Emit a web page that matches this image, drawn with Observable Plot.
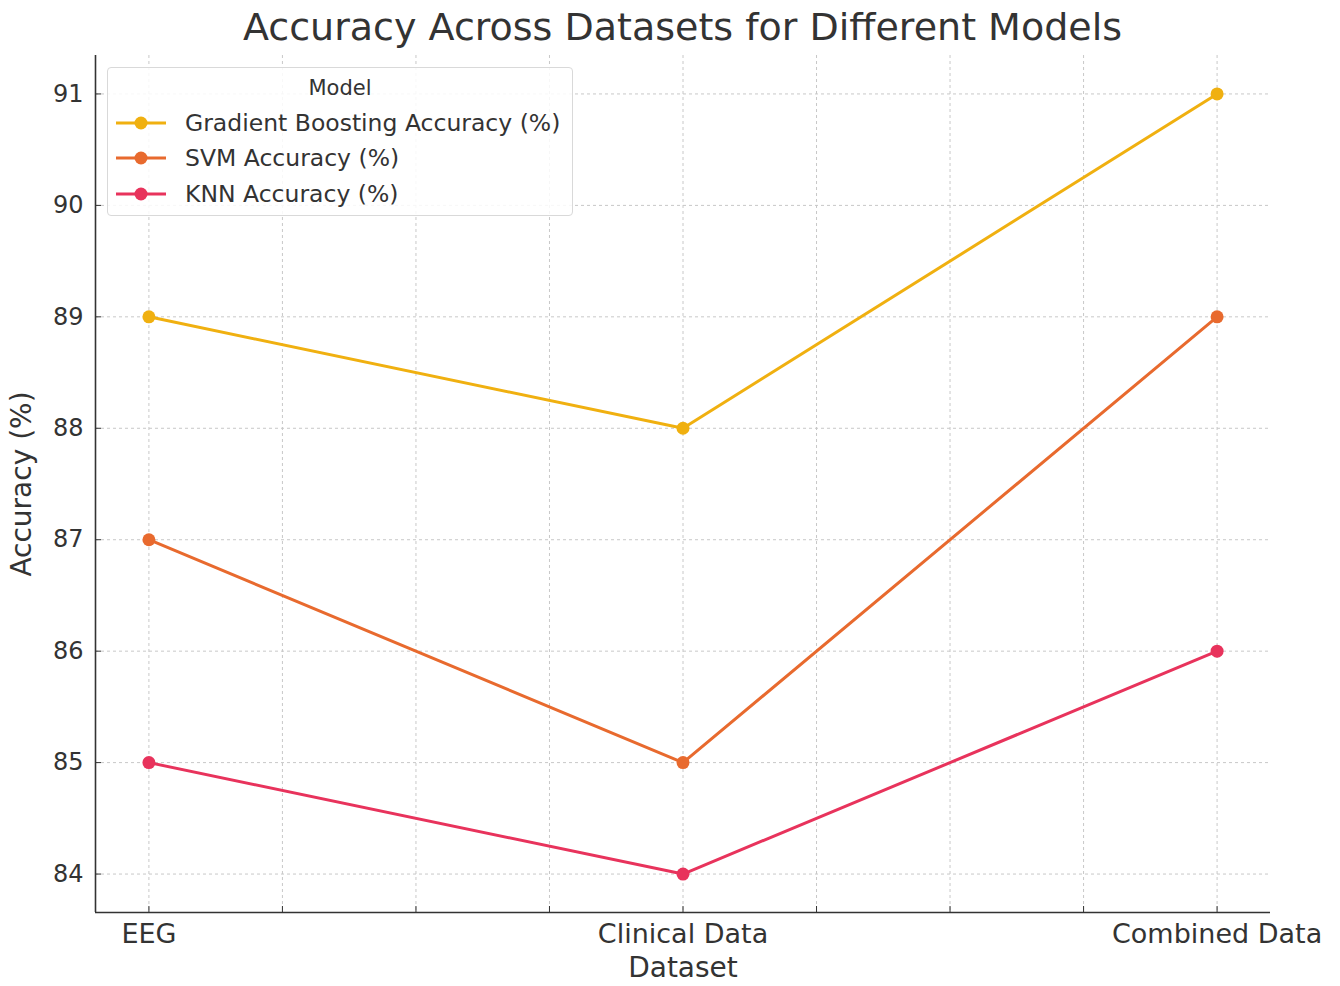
<!DOCTYPE html>
<html>
<head>
<meta charset="utf-8">
<script src="https://cdn.jsdelivr.net/npm/d3@7"></script>
<script src="https://cdn.jsdelivr.net/npm/@observablehq/plot@0.6"></script>
<style>
  html, body { margin: 0; padding: 0; background: #fff; }
  body { width: 1340px; height: 986px; position: relative; overflow: hidden; font-family: "DejaVu Sans", sans-serif; color: #333; }
  #title { position: absolute; left: 95px; width: 1175px; top: 5px; text-align: center; font-size: 38px; line-height: 44px; color: #333; white-space: nowrap; }
  #chart { position: absolute; left: 0; top: 50px; }
  #legend { position: absolute; left: 107px; top: 67px; width: 464px; height: 147px; border: 1px solid #d9d9d9; border-radius: 4px; background: rgba(255,255,255,0.85); }
  #legend .ltitle { position: absolute; left: 0; width: 100%; top: 7px; text-align: center; font-size: 21px; line-height: 26px; color: #333; }
  #legend .row { position: absolute; left: 7px; height: 30px; display: flex; align-items: center; }
  #legend .row span { font-size: 23.5px; color: #333; margin-left: 18px; white-space: nowrap; }
  #chart svg g[aria-label="y-axis label"] text, #chart svg g[aria-label="x-axis label"] text { font-size: 28px; }
</style>
</head>
<body>
<div id="title">Accuracy Across Datasets for Different Models</div>
<div id="chart"></div>
<div id="legend"></div>
<script>
// ---- data ----
const datasets = ["EEG", "Clinical Data", "Combined Data"];
const models = ["Gradient Boosting Accuracy (%)", "SVM Accuracy (%)", "KNN Accuracy (%)"];
const gradientBoosting = [89, 88, 91];
const svm = [87, 85, 89];
const knn = [85, 84, 86];
const colors = ["#F0B010", "#E86A2E", "#E8335C"];
const yTicks = [84, 85, 86, 87, 88, 89, 90, 91];
const xTicks = [0, 0.25, 0.5, 0.75, 1, 1.25, 1.5, 1.75, 2];

const seriesValues = [gradientBoosting, svm, knn];
const rows = [];
models.forEach((m, mi) => {
  datasets.forEach((d, di) => rows.push({model: m, x: di, dataset: d, value: seriesValues[mi][di]}));
});

const xDomain = [-0.1, 2.1];
const yDomain = [83.655, 91.345];

const chart = Plot.plot({
  width: 1340,
  height: 936,
  marginTop: 5,
  marginBottom: 74,
  marginLeft: 95,
  marginRight: 70,
  style: {fontFamily: "DejaVu Sans, sans-serif", color: "#333", background: "transparent"},
  x: {domain: xDomain},
  y: {domain: yDomain},
  color: {domain: models, range: colors},
  marks: [
    Plot.gridX(xTicks, {stroke: "#c8c8c8", strokeOpacity: 1, strokeDasharray: "3,3", strokeWidth: 1}),
    Plot.gridY(yTicks, {stroke: "#c8c8c8", strokeOpacity: 1, strokeDasharray: "3,3", strokeWidth: 1}),
    Plot.axisX(xTicks, {
      tickSize: -6, tickPadding: 17, fontSize: 27, stroke: "#333",
      tickFormat: d => Number.isInteger(d) ? datasets[d] : "",
      label: "Dataset", labelAnchor: "center", labelArrow: "none", labelOffset: 64
    }),
    Plot.axisY(yTicks, {
      tickSize: -6, tickPadding: 18, fontSize: 24, stroke: "#333",
      tickFormat: d => String(d),
      label: "Accuracy (%)", labelAnchor: "center", labelArrow: "none", labelOffset: 84
    }),
    Plot.ruleX([xDomain[0]], {stroke: "#333", strokeWidth: 1.6}),
    Plot.ruleY([yDomain[0]], {stroke: "#333", strokeWidth: 1.6}),
    Plot.line(rows, {x: "x", y: "value", z: "model", stroke: "model", strokeWidth: 3}),
    Plot.dot(rows, {x: "x", y: "value", fill: "model", r: 6.5})
  ]
});
document.getElementById("chart").appendChild(chart);

// legend
const legend = document.getElementById("legend");
const lt = document.createElement("div");
lt.className = "ltitle";
lt.textContent = "Model";
legend.appendChild(lt);
const rowTops = [40, 75, 111];
models.forEach((m, i) => {
  const r = document.createElement("div");
  r.className = "row";
  r.style.top = rowTops[i] + "px";
  r.innerHTML = `<svg width="52" height="14"><line x1="1" y1="7" x2="51" y2="7" stroke="${colors[i]}" stroke-width="3"/><circle cx="26" cy="7" r="6.5" fill="${colors[i]}"/></svg><span>${m}</span>`;
  legend.appendChild(r);
});
</script>
</body>
</html>
